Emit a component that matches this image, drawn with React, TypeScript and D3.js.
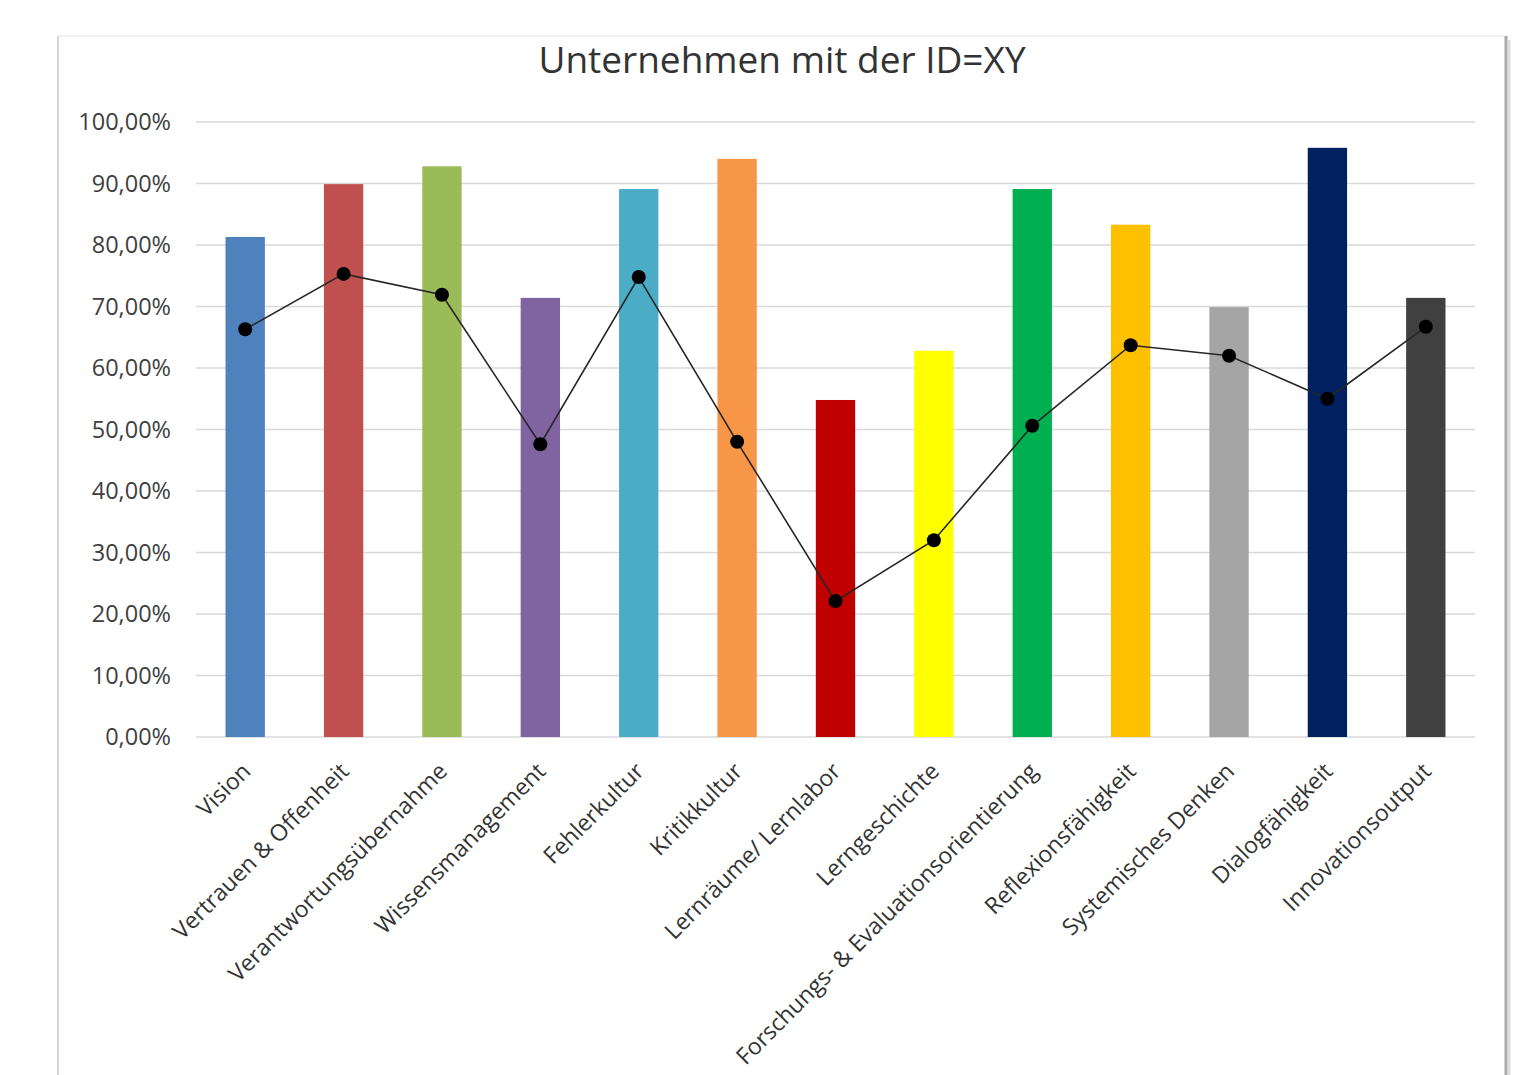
import React, { useRef, useEffect } from "react";
import * as d3 from "d3";

const CATEGORIES = [
  "Vision",
  "Vertrauen & Offenheit",
  "Verantwortungsübernahme",
  "Wissensmanagement",
  "Fehlerkultur",
  "Kritikkultur",
  "Lernräume/ Lernlabor",
  "Lerngeschichte",
  "Forschungs- & Evaluationsorientierung",
  "Reflexionsfähigkeit",
  "Systemisches Denken",
  "Dialogfähigkeit",
  "Innovationsoutput",
];

// Balken (Unternehmen) und Linie (Vergleich)
const BAR_VALUES = [0.813, 0.899, 0.928, 0.714, 0.891, 0.94, 0.548, 0.628, 0.891, 0.833, 0.699, 0.958, 0.714];
const LINE_VALUES = [0.663, 0.753, 0.719, 0.476, 0.748, 0.48, 0.221, 0.32, 0.506, 0.637, 0.62, 0.55, 0.667];

const BAR_COLORS = [
  "#4f81bd",
  "#c0504d",
  "#9bbb59",
  "#8064a2",
  "#4bacc6",
  "#f79646",
  "#c00000",
  "#ffff00",
  "#00b050",
  "#ffc000",
  "#a5a5a5",
  "#002060",
  "#404040",
];

const Y_TICKS = [0, 0.1, 0.2, 0.3, 0.4, 0.5, 0.6, 0.7, 0.8, 0.9, 1.0];

const TITLE = "Unternehmen mit der ID=XY";

const WIDTH = 1526;
const HEIGHT = 1075;
const FONT = "'Open Sans', Lato, sans-serif";

export default function App() {
  const svgRef = useRef<SVGSVGElement>(null);

  useEffect(() => {
    if (!svgRef.current) return;
    const svg = d3.select(svgRef.current);
    svg.selectAll("*").remove();

    const plot = { left: 196, right: 1475, top: 122, bottom: 737 };

    svg.append("rect").attr("width", WIDTH).attr("height", HEIGHT).attr("fill", "#fff");

    // Rahmen mit Schatten rechts
    svg.append("line")
      .attr("x1", 58).attr("x2", 1505).attr("y1", 36).attr("y2", 36)
      .attr("stroke", "#eeeeee").attr("stroke-width", 1.5);
    svg.append("line")
      .attr("x1", 58).attr("x2", 58).attr("y1", 36).attr("y2", HEIGHT)
      .attr("stroke", "#d6d6d6").attr("stroke-width", 2);
    svg.append("line")
      .attr("x1", 1506).attr("x2", 1506).attr("y1", 36).attr("y2", HEIGHT)
      .attr("stroke", "#a8a8a8").attr("stroke-width", 3);
    svg.append("line")
      .attr("x1", 1509).attr("x2", 1509).attr("y1", 40).attr("y2", HEIGHT)
      .attr("stroke", "#dcdcdc").attr("stroke-width", 3);

    const x = d3
      .scaleBand<string>()
      .domain(CATEGORIES)
      .range([plot.left, plot.right])
      .paddingInner(0.6)
      .paddingOuter(0.3);
    const y = d3.scaleLinear().domain([0, 1]).range([plot.bottom, plot.top]);
    const center = (c: string) => (x(c) ?? 0) + x.bandwidth() / 2;

    // Titel
    svg.append("text")
      .attr("x", 782)
      .attr("y", 73)
      .attr("text-anchor", "middle")
      .style("font-family", FONT)
      .style("font-size", "37px")
      .style("fill", "#333")
      .text(TITLE);

    // Gitterlinien
    svg.append("g")
      .selectAll("line")
      .data(Y_TICKS)
      .join("line")
      .attr("x1", plot.left)
      .attr("x2", plot.right)
      .attr("y1", (d) => y(d))
      .attr("y2", (d) => y(d))
      .attr("stroke", "#d9d9d9")
      .attr("stroke-width", 1.5);

    // Y-Achse Beschriftung
    svg.append("g")
      .selectAll("text")
      .data(Y_TICKS)
      .join("text")
      .attr("x", 171)
      .attr("y", (d) => y(d))
      .attr("dy", "0.35em")
      .attr("text-anchor", "end")
      .style("font-family", FONT)
      .style("font-size", "23.5px")
      .style("fill", "#404040")
      .text((d) => (d * 100).toFixed(2).replace(".", ",") + "%");

    // Balken
    svg.append("g")
      .selectAll("rect")
      .data(CATEGORIES)
      .join("rect")
      .attr("x", (d) => x(d) ?? 0)
      .attr("y", (_d, i) => y(BAR_VALUES[i]))
      .attr("width", x.bandwidth())
      .attr("height", (_d, i) => y(0) - y(BAR_VALUES[i]))
      .attr("fill", (_d, i) => BAR_COLORS[i]);

    // Linie
    const line = d3
      .line<number>()
      .x((_d, i) => center(CATEGORIES[i]))
      .y((d) => y(d));
    svg.append("path")
      .datum(LINE_VALUES)
      .attr("d", line)
      .attr("fill", "none")
      .attr("stroke", "#262626")
      .attr("stroke-width", 1.6);
    svg.append("g")
      .selectAll("circle")
      .data(LINE_VALUES)
      .join("circle")
      .attr("cx", (_d, i) => center(CATEGORIES[i]))
      .attr("cy", (d) => y(d))
      .attr("r", 7)
      .attr("fill", "#000");

    // Kategorien (gedreht)
    svg.append("g")
      .selectAll("text")
      .data(CATEGORIES)
      .join("text")
      .attr("transform", (d) => `translate(${center(d) + 1},${plot.bottom + 30}) rotate(-45)`)
      .attr("text-anchor", "end")
      .attr("dy", "0.35em")
      .style("font-family", FONT)
      .style("font-size", "23px")
      .style("fill", "#333")
      .text((d) => d);
  }, []);

  return (
    <svg
      ref={svgRef}
      width={WIDTH}
      height={HEIGHT}
      viewBox={`0 0 ${WIDTH} ${HEIGHT}`}
      style={{ position: "absolute", left: 0, top: 0 }}
    />
  );
}
